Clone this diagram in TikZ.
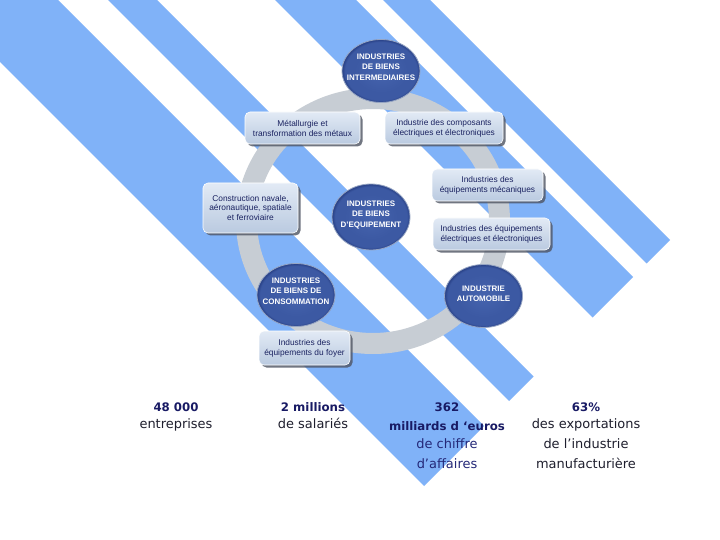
\documentclass[tikz,border=0pt]{standalone}
\usepackage{fontspec}
\setmainfont{DejaVu Sans}
\newfontfamily\boxfont{Liberation Sans}
\usetikzlibrary{shapes.geometric,shadows}
\definecolor{stripe}{RGB}{128,178,248}
\definecolor{ringgray}{RGB}{199,205,212}
\definecolor{navy}{RGB}{24,26,100}
\definecolor{navytwo}{RGB}{36,40,120}
\definecolor{boxtext}{RGB}{26,34,96}
\definecolor{boxtop}{RGB}{226,234,245}
\definecolor{boxbot}{RGB}{186,202,224}
\definecolor{circin}{RGB}{70,100,174}
\definecolor{circmid}{RGB}{60,89,163}
\definecolor{circout}{RGB}{40,64,134}
\definecolor{circhalo}{RGB}{150,165,195}
\definecolor{shadowc}{RGB}{78,84,98}
\definecolor{textdark}{RGB}{30,30,45}
\pgfdeclareradialshading{sectorshade}{\pgfpoint{0bp}{0bp}}{color(0bp)=(circin); color(17bp)=(circmid); color(23bp)=(circmid); color(25bp)=(circout); color(50bp)=(circout)}
\begin{document}
\begin{tikzpicture}[x=1bp,y=-1bp,
  sector/.style={shape=ellipse, minimum width=78bp, minimum height=63bp, inner sep=0pt,
    shading=sectorshade, draw=circhalo, line width=0.8bp},
  sectortext/.style={text=white, align=center, inner sep=0pt,
    font=\boxfont\bfseries\fontsize{8}{10.5}\selectfont},
  branch/.style={rounded corners=5bp, top color=boxtop, bottom color=boxbot,
    draw=white, line width=0.6bp, text=boxtext, align=center, inner sep=0pt,
    font=\boxfont\fontsize{8.4}{10}\selectfont,
    drop shadow={shadow xshift=2.5bp, shadow yshift=-2.5bp, fill=shadowc, opacity=0.8}},
  fignum/.style={font=\bfseries\fontsize{11.8}{13}\selectfont, text=navy, inner sep=0pt, anchor=base},
  figtext/.style={font=\fontsize{13}{19}\selectfont, text=textdark, inner sep=0pt, anchor=base}
]
\useasboundingbox (0,0) rectangle (720,540);
\fill[white] (0,0) rectangle (720,540);
% diagonal stripes
\begin{scope}
  \clip (0,0) rectangle (720,540);
  \foreach \a/\b in {-62/58,108/157,275/356,383/430} {
    \fill[stripe] ({\a-100},-100) -- ({\b-100},-100) -- ({(910+\b)/2},{(910-\b)/2})
      -- ({(910+\a)/2},{(910-\a)/2}) -- cycle;
  }
\end{scope}
% ring
\fill[ringgray, even odd rule] (373,221) ellipse [x radius=137, y radius=133]
  (373,221) ellipse [x radius=116, y radius=112];
% branch boxes
\node[branch, minimum width=115bp, minimum height=32bp] (met) at (302.5,128)
  {Métallurgie et\\transformation des métaux};
\node[branch, minimum width=118bp, minimum height=32bp] (comp) at (444,128)
  {Industrie des composants\\électriques et électroniques};
\node[branch, minimum width=95bp, minimum height=50bp] (constr) at (250.5,208)
  {Construction navale,\\aéronautique, spatiale\\et ferroviaire};
\node[branch, minimum width=111bp, minimum height=32bp] (meca) at (487.5,185)
  {Industries des\\équipements mécaniques};
\node[branch, minimum width=117bp, minimum height=32bp] (elec) at (491.5,234)
  {Industries des équipements\\électriques et électroniques};
\node[branch, minimum width=91bp, minimum height=34bp] (foyer) at (304.5,348)
  {Industries des\\équipements du foyer};
% sector circles
\node[sector] (inter) at (381,71) {};
\node[sectortext] (intert) at (381,67) {INDUSTRIES\\DE BIENS\\INTERMEDIAIRES};
\node[sector, minimum height=66bp] (equip) at (371,217) {};
\node[sectortext] (equipt) at (371,215) {INDUSTRIES\\DE BIENS\\D’EQUIPEMENT};
\node[sector] (conso) at (296,295) {};
\node[sectortext] (consot) at (296,291) {INDUSTRIES\\DE BIENS DE\\CONSOMMATION};
\node[sector] (auto) at (483.5,296) {};
\node[sectortext] (autot) at (483.5,294) {INDUSTRIE\\AUTOMOBILE};
% key figures
\node[fignum] (n1) at (176,411) {48 000};
\node[figtext] (t1) at (176,428.5) {entreprises};
\node[fignum] (n2) at (313,411) {2 millions};
\node[figtext] (t2) at (313,428.5) {de salariés};
\node[fignum] (n3) at (447,411) {362};
\node[fignum] (n3b) at (447,430) {milliards d ‘euros};
\node[figtext, text=navytwo] (t3a) at (447,448.5) {de chiffre};
\node[figtext, text=navytwo] (t3b) at (447,468) {d’affaires};
\node[fignum] (n4) at (586,411) {63\%};
\node[figtext] (t4a) at (586,428.5) {des exportations};
\node[figtext] (t4b) at (586,448.5) {de l’industrie};
\node[figtext] (t4c) at (586,468) {manufacturière};
\end{tikzpicture}
\end{document}
